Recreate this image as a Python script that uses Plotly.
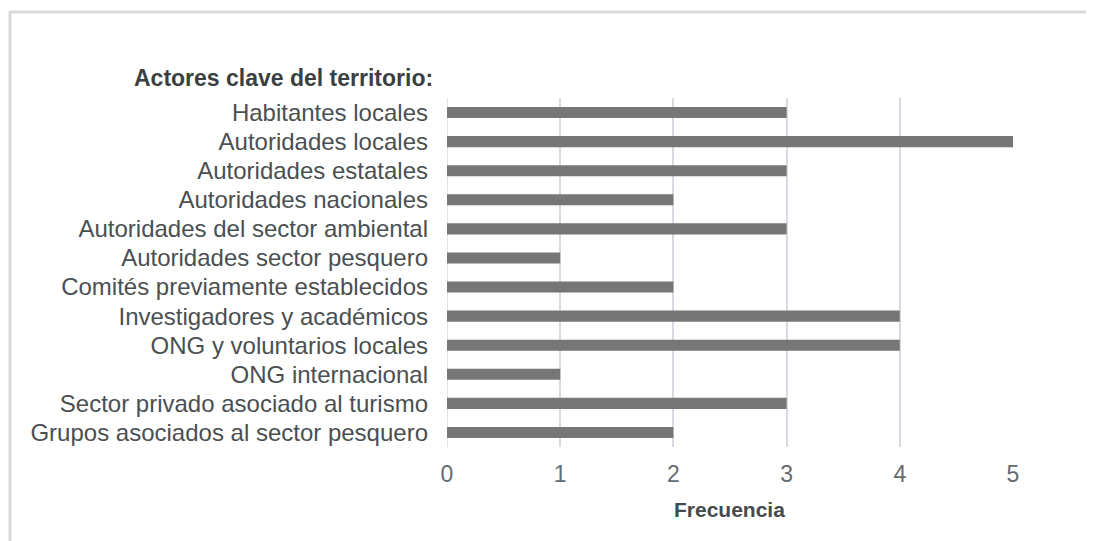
import plotly.graph_objects as go

categories = [
    "Habitantes locales",
    "Autoridades locales",
    "Autoridades estatales",
    "Autoridades nacionales",
    "Autoridades del sector ambiental",
    "Autoridades sector pesquero",
    "Comités previamente establecidos",
    "Investigadores y académicos",
    "ONG y voluntarios locales",
    "ONG internacional",
    "Sector privado asociado al turismo",
    "Grupos asociados al sector pesquero",
]
frecuencia = [3, 5, 3, 2, 3, 1, 2, 4, 4, 1, 3, 2]
x_ticks = [0, 1, 2, 3, 4, 5]

# page body has an 8px default margin; figure is sized to fill the rest
O = 8
W, H = 1094 - O, 541 - O
L, R, T, B = 447 - O, 81, 98 - O, 94
pw, ph = W - L - R, H - T - B

def px(xp):
    return (xp - O - L) / pw

def py(yp):
    return (H - B - (yp - O)) / ph

fig = go.Figure(go.Bar(
    y=categories, x=frecuencia, orientation="h",
    marker=dict(color="#767676", line=dict(width=0)),
))

fig.update_layout(
    width=W, height=H,
    margin=dict(l=L, r=R, t=T, b=B),
    paper_bgcolor="white", plot_bgcolor="white",
    bargap=0.62,
    showlegend=False,
    font=dict(family="Liberation Sans, Arial, sans-serif"),
    xaxis=dict(
        range=[0, 5], tickvals=x_ticks, ticktext=[str(v) for v in x_ticks],
        showgrid=True, gridcolor="#d5dbe0", gridwidth=1.5,
        zeroline=False, showline=False,
        tickfont=dict(size=23, color="#646b70"),
        ticklabelstandoff=11,
    ),
    yaxis=dict(
        categoryorder="array", categoryarray=categories[::-1],
        showgrid=False, zeroline=False, showline=False,
        tickfont=dict(size=24, color="#4a4f52"),
        ticklabelstandoff=18,
    ),
    annotations=[
        dict(text="<b>Actores clave del territorio:</b>", xref="paper", yref="paper",
             x=px(132), y=py(78), xanchor="left", yanchor="middle", showarrow=False,
             font=dict(size=23, color="#3a3f42")),
        dict(text="<b>Frecuencia</b>", xref="paper", yref="paper",
             x=px(729), y=py(509), xanchor="center", yanchor="middle", showarrow=False,
             font=dict(size=21, color="#454a4d")),
    ],
    shapes=[
        dict(type="line", xref="paper", yref="paper", x0=px(9), x1=px(1110), y0=py(12), y1=py(12),
             line=dict(color="#d9d9d9", width=3)),
        dict(type="line", xref="paper", yref="paper", x0=px(10), x1=px(10), y0=py(11), y1=py(560),
             line=dict(color="#d9d9d9", width=3)),
        dict(type="line", xref="x", yref="paper", x0=0, x1=0, y0=0, y1=1,
             line=dict(color="#d5dbe0", width=1.5), layer="below"),
    ],
)

fig.write_html("out.html")
